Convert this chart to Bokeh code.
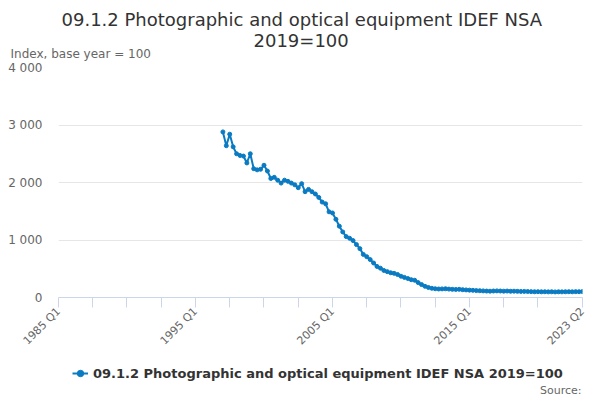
import math
from bokeh.plotting import figure
from bokeh.layouts import column
from bokeh.models import (Range1d, FixedTicker, Legend, LegendItem, Label, Title,
                          ColumnDataSource)
from bokeh.embed import file_html
from bokeh.resources import INLINE

# ---- data ----
start_year = 1985
n_quarters = 154  # 1985 Q1 .. 2023 Q2
quarters = [f"{start_year + i // 4} Q{i % 4 + 1}" for i in range(n_quarters)]
first_idx = 48  # 1997 Q1
title_lines = ["09.1.2 Photographic and optical equipment IDEF NSA", "2019=100"]
subtitle = "Index, base year = 100"
series_name = "09.1.2 Photographic and optical equipment IDEF NSA 2019=100"
source_text = "Source:"
values = [
    2880, 2640, 2840, 2620, 2500, 2470, 2460, 2340, 2500, 2240,
    2220, 2230, 2300, 2200, 2070, 2090, 2040, 1990, 2040, 2020,
    1990, 1960, 1910, 1980, 1840, 1880, 1840, 1800, 1740, 1660,
    1630, 1490, 1470, 1360, 1240, 1140, 1060, 1030, 990, 920,
    850, 750, 710, 660, 600, 540, 510, 470, 450, 430,
    420, 400, 370, 350, 330, 310, 300, 260, 225, 195,
    175, 160, 152, 148, 150, 152, 146, 142, 140, 142,
    136, 132, 128, 125, 120, 118, 115, 112, 110, 113,
    115, 113, 110, 112, 108, 110, 107, 105, 106, 104,
    102, 100, 101, 99, 100, 98, 100, 97, 99, 98,
    100, 101, 99, 102, 101, 103,
]
x_ticks = list(range(0, 150, 10)) + [153]
x_labelled = [0, 40, 80, 120, 153]
y_ticks = [0, 1000, 2000, 3000, 4000]
y_labels = ["0", "1 000", "2 000", "3 000", "4 000"]

src = ColumnDataSource(dict(x=list(range(first_idx, first_idx + len(values))), y=values))

FONT = "DejaVu Sans"
BLUE = "#0a7bc2"
W = 600
LEFT, RIGHT = 58, 582      # frame edges (page px)
MAIN_H = 355
BOT_H = 45

# ---- main chart ----
p = figure(width=W, height=MAIN_H, output_backend="svg", toolbar_location=None,
           x_range=Range1d(0, n_quarters - 1), y_range=Range1d(0, 4000),
           min_border_left=LEFT, min_border_right=W - RIGHT, min_border_top=67,
           min_border_bottom=58, title=None)
p.outline_line_color = None

# titles, nearest to the plot first
p.add_layout(Title(text=subtitle, align="left", offset=10 - LEFT, vertical_align="top",
                   text_font=FONT, text_font_size="12px", text_font_style="normal",
                   text_color="#666666", standoff=8.6), "above")
p.add_layout(Title(text=title_lines[1], align="left", offset=253 - LEFT, vertical_align="top",
                   text_font=FONT, text_font_size="18px", text_font_style="normal",
                   text_color="#333333", standoff=-20.8), "above")
p.add_layout(Title(text=title_lines[0], align="left", offset=61 - LEFT, vertical_align="top",
                   text_font=FONT, text_font_size="18px", text_font_style="normal",
                   text_color="#333333", standoff=15.8), "above")

lr = p.line("x", "y", source=src, line_color=BLUE, line_width=2)
sr = p.scatter("x", "y", source=src, size=4, fill_color=BLUE, line_color=BLUE)

p.xaxis.ticker = FixedTicker(ticks=x_ticks)
p.xaxis.major_label_overrides = {t: (quarters[t] if t in x_labelled else "") for t in x_ticks}
p.xaxis.major_label_orientation = math.pi / 4
p.xaxis.axis_line_color = "#ccd6eb"
p.xaxis.major_tick_line_color = "#ccd6eb"
p.xaxis.major_tick_out = 10
p.xaxis.major_tick_in = 0
p.xaxis.minor_tick_line_color = None
p.xaxis.major_label_text_font = FONT
p.xaxis.major_label_text_font_size = "11px"
p.xaxis.major_label_text_color = "#666666"
p.xaxis.major_label_standoff = 2

p.yaxis.ticker = FixedTicker(ticks=y_ticks)
p.yaxis.major_label_overrides = dict(zip(y_ticks, y_labels))
p.yaxis.axis_line_color = None
p.yaxis.major_tick_line_color = None
p.yaxis.major_tick_out = 6
p.yaxis.minor_tick_line_color = None
p.yaxis.major_label_standoff = 10
p.yaxis.major_label_text_font = FONT
p.yaxis.major_label_text_font_size = "12px"
p.yaxis.major_label_text_color = "#666666"

p.xgrid.grid_line_color = None
p.ygrid.grid_line_color = "#e6e6e6"

# ---- footer (legend + source) ----
bot = figure(width=W, height=BOT_H, output_backend="svg", toolbar_location=None,
             x_range=Range1d(LEFT, RIGHT), y_range=Range1d(0, BOT_H),
             x_axis_location=None, y_axis_location=None,
             min_border_left=LEFT, min_border_right=W - RIGHT,
             min_border_top=0, min_border_bottom=0)
bot.outline_line_color = None
bot.grid.visible = False
# same series drawn here only to give the legend its swatch (falls outside this strip)
leg_line = bot.line("x", "y", source=src, line_color=BLUE, line_width=2)
leg_pt = bot.scatter("x", "y", source=src, size=4, fill_color=BLUE, line_color=BLUE)
legend = Legend(items=[LegendItem(label=series_name, renderers=[leg_line, leg_pt])],
                location=(72 - LEFT, BOT_H - 18 - 10), orientation="horizontal",
                label_text_font=FONT, label_text_font_size="13px",
                label_text_font_style="bold", label_text_color="#333333",
                border_line_color=None, background_fill_alpha=0,
                glyph_width=16, glyph_height=20, label_standoff=5,
                padding=0, margin=0, spacing=0)
bot.add_layout(legend, "center")
bot.add_layout(Label(x=RIGHT - 1, y=BOT_H - 35, text=source_text, text_font=FONT,
                     text_font_size="11px", text_color="#666666",
                     text_align="right", text_baseline="middle"))

layout = column(p, bot, spacing=0)
open("out.html", "w").write(file_html(layout, INLINE))
